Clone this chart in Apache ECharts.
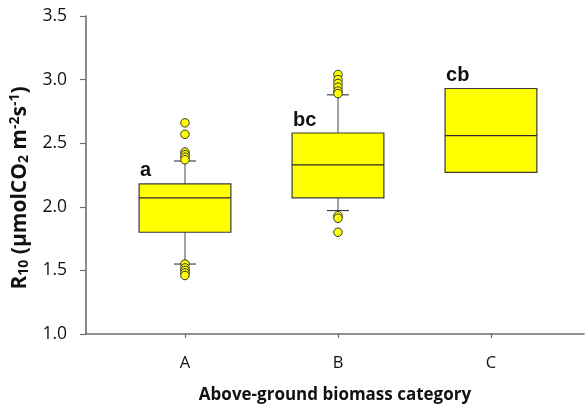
<!DOCTYPE html>
<html>
<head>
<meta charset="utf-8">
<script src="https://cdn.jsdelivr.net/npm/echarts@6/dist/echarts.min.js"></script>
<style>html,body{margin:0;padding:0;background:#fff;}#chart{width:585px;height:410px;}</style>
</head>
<body>
<div id="chart"></div>
<script>
// ---- data ----
var categories = ['A', 'B', 'C'];
var xPos = [1, 2, 3];
var whiskerLow = [1.55, 1.97, null];
var q1 = [1.80, 2.07, 2.27];
var median = [2.07, 2.33, 2.56];
var q3 = [2.18, 2.58, 2.93];
var whiskerHigh = [2.36, 2.88, null];
var outliersA = [2.66, 2.57, 2.43, 2.41, 2.39, 2.37, 1.55, 1.52, 1.50, 1.48, 1.46];
var outliersB = [3.04, 3.00, 2.97, 2.94, 2.91, 2.89, 1.93, 1.91, 1.80];
var outliersC = [];
var letters = ['a', 'bc', 'cb'];
var yTicks = [1.0, 1.5, 2.0, 2.5, 3.0, 3.5];

var outlierLists = [outliersA, outliersB, outliersC];
var outlierData = [];
outlierLists.forEach(function (arr, i) {
  arr.forEach(function (v) { outlierData.push([xPos[i], v]); });
});
var boxData = categories.map(function (c, i) { return [xPos[i], q1[i], median[i], q3[i]]; });

var chart = echarts.init(document.getElementById('chart'), null, {renderer: 'canvas'});
var axisColor = '#6e6e6e';
var boxStroke = '#3a3a3a';

chart.setOption({
  animation: false,
  backgroundColor: '#ffffff',
  grid: {left: 86, right: 1, top: 16, bottom: 76},
  xAxis: {
    type: 'value',
    min: 0.353,
    max: 3.608,
    splitLine: {show: false},
    axisLine: {show: true, lineStyle: {color: axisColor, width: 1.6}},
    axisTick: {show: true, inside: false, length: 4, customValues: xPos, lineStyle: {color: axisColor, width: 1.2}},
    axisLabel: {
      customValues: xPos,
      margin: 21,
      fontFamily: 'Open Sans',
      fontSize: 16.5,
      color: '#111',
      formatter: function (v) { return categories[Math.round(v) - 1]; }
    },
    name: 'Above-ground biomass category',
    nameLocation: 'middle',
    nameGap: 53,
    nameTextStyle: {fontFamily: 'Open Sans', fontWeight: 'bold', fontSize: 17, color: '#111'}
  },
  yAxis: {
    type: 'value',
    min: 1.0,
    max: 3.5,
    interval: 0.5,
    splitLine: {show: false},
    axisLine: {show: true, lineStyle: {color: axisColor, width: 1.6}},
    axisTick: {show: true, inside: false, length: 6, lineStyle: {color: axisColor, width: 1.2}},
    axisLabel: {
      margin: 19,
      fontFamily: 'Open Sans',
      fontSize: 17.5,
      color: '#111',
      formatter: function (v) { return v.toFixed(1); }
    },
    name: 'R{sub|10} (µmolCO{sub|2} m{sup|-2}s{sup|-1})',
    nameLocation: 'middle',
    nameRotate: 90,
    nameGap: 48,
    nameTextStyle: {
      fontFamily: 'Open Sans', fontWeight: 'bold', fontSize: 21, color: '#111',
      padding: [0, 26, 0, 0],
      rich: {
        sub: {fontFamily: 'Open Sans', fontWeight: 'bold', fontSize: 14, color: '#111', verticalAlign: 'bottom', padding: [9, 0, 0, 0]},
        sup: {fontFamily: 'Open Sans', fontWeight: 'bold', fontSize: 14, color: '#111', verticalAlign: 'top', padding: [0, 0, 9, 0]}
      }
    }
  },
  series: [
    {
      type: 'custom',
      z: 2,
      data: boxData,
      encode: {x: 0, y: [1, 2, 3]},
      renderItem: function (params, api) {
        var i = params.dataIndex;
        var x = api.value(0);
        var boxW = api.size([0.6, 0])[0];
        var capW = api.size([0.144, 0])[0];
        var pQ1 = api.coord([x, api.value(1)]);
        var pMed = api.coord([x, api.value(2)]);
        var pQ3 = api.coord([x, api.value(3)]);
        var cx = pQ1[0];
        var left = cx - boxW / 2;
        var children = [];
        if (whiskerHigh[i] != null) {
          var pHi = api.coord([x, whiskerHigh[i]]);
          children.push({type: 'line', shape: {x1: cx, y1: pQ3[1], x2: cx, y2: pHi[1]}, style: {stroke: '#707070', lineWidth: 1.3}});
          children.push({type: 'line', z2: 20, shape: {x1: cx - capW / 2, y1: pHi[1], x2: cx + capW / 2, y2: pHi[1]}, style: {stroke: '#222', lineWidth: 1}});
        }
        if (whiskerLow[i] != null) {
          var pLo = api.coord([x, whiskerLow[i]]);
          children.push({type: 'line', shape: {x1: cx, y1: pQ1[1], x2: cx, y2: pLo[1]}, style: {stroke: '#707070', lineWidth: 1.3}});
          children.push({type: 'line', z2: 20, shape: {x1: cx - capW / 2, y1: pLo[1], x2: cx + capW / 2, y2: pLo[1]}, style: {stroke: '#222', lineWidth: 1}});
        }
        children.push({type: 'rect', shape: {x: left, y: pQ3[1], width: boxW, height: pQ1[1] - pQ3[1]}, style: {fill: '#ffff00', stroke: boxStroke, lineWidth: 1.2}});
        children.push({type: 'line', shape: {x1: left, y1: pMed[1], x2: left + boxW, y2: pMed[1]}, style: {stroke: '#2a2a2a', lineWidth: 1.2}});
        children.push({type: 'text', style: {x: left + 1, y: pQ3[1] - 3, text: letters[i], fill: '#111', font: 'bold 20px "Liberation Sans", Arial, sans-serif', textAlign: 'left', textVerticalAlign: 'bottom'}});
        return {type: 'group', children: children};
      }
    },
    {
      type: 'scatter',
      z: 3,
      data: outlierData,
      symbol: 'circle',
      symbolSize: 8.5,
      itemStyle: {color: '#ffff00', borderColor: '#333', borderWidth: 1, opacity: 1}
    }
  ]
});
</script>
</body>
</html>
